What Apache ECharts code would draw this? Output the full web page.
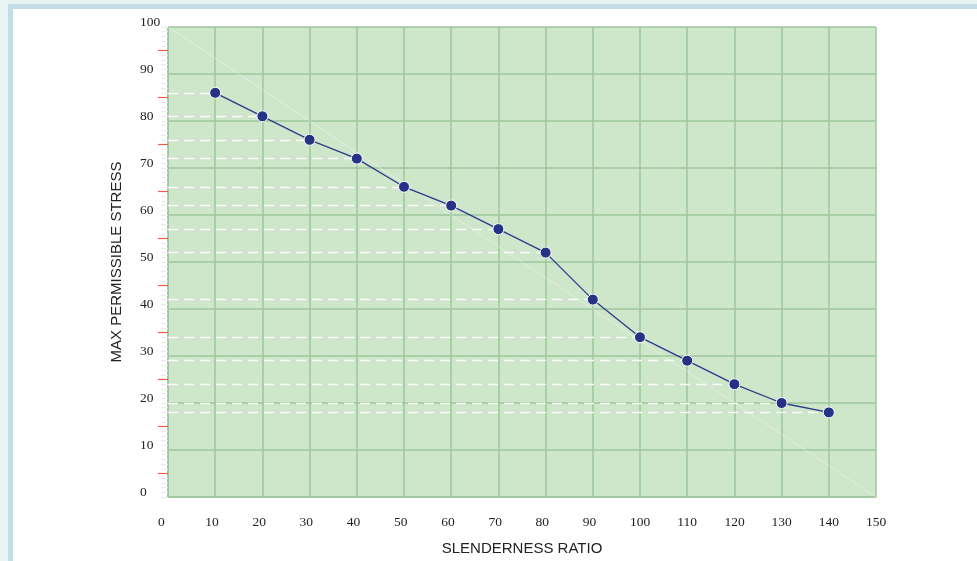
<!DOCTYPE html>
<html><head><meta charset="utf-8">
<script src="https://cdn.jsdelivr.net/npm/echarts@6/dist/echarts.min.js"></script>
<style>html,body{margin:0;padding:0;background:#e8f3f4}#c{width:977px;height:561px}</style>
</head><body><div id="c"></div>
<script>
const slenderness = [10, 20, 30, 40, 50, 60, 70, 80, 90, 100, 110, 120, 130, 140];
const maxStress = [86, 81, 76, 72, 66, 62, 57, 52, 42, 34, 29, 24, 20, 18];
const redTickValues = [5, 15, 25, 35, 45, 55, 65, 75, 85, 95];
const diagonal = [[0, 100], [150, 0]];
const xTitle = 'SLENDERNESS RATIO';
const yTitle = 'MAX PERMISSIBLE STRESS';

const chart = echarts.init(document.getElementById('c'));
const grid = '#9dc69c';
const serif = '"Liberation Serif", "DejaVu Serif", serif';
const sans = '"Liberation Sans", Arial, sans-serif';
const points = slenderness.map((x, i) => [x, maxStress[i]]);
chart.setOption({
  backgroundColor: '#e8f3f4',
  animation: false,
  graphic: [
    { type: 'rect', silent: true, z: -10, shape: { x: 8, y: 4, width: 969, height: 557 }, style: { fill: '#c1dee4' } },
    { type: 'rect', silent: true, z: -9, shape: { x: 13, y: 9, width: 964, height: 552 }, style: { fill: '#ffffff' } }
  ],
  grid: { left: 168, right: 101, top: 27, bottom: 64, show: true, backgroundColor: '#cee6ca', borderWidth: 0 },
  xAxis: {
    type: 'value', min: 0, max: 150, interval: 10,
    name: xTitle, nameLocation: 'middle', nameGap: 44,
    nameTextStyle: { fontFamily: sans, fontSize: 15, color: '#222', verticalAlign: 'top' },
    axisLine: { show: true, lineStyle: { color: grid, width: 1.5 } },
    axisTick: { show: false },
    splitLine: { show: true, lineStyle: { color: grid, width: 1.5 } },
    axisLabel: {
      margin: 18, color: '#222', fontFamily: serif, fontSize: 13.5,
      formatter: v => '{v|' + v + '}',
      rich: { v: { width: 20, align: 'left', fontFamily: serif, fontSize: 13.5, color: '#222' } }
    }
  },
  yAxis: [{
    type: 'value', min: 0, max: 100, interval: 10,
    name: yTitle, nameLocation: 'middle', nameGap: 44, nameRotate: 90,
    nameTextStyle: { fontFamily: sans, fontSize: 15, color: '#222' },
    axisLine: { show: true, lineStyle: { color: grid, width: 1.5 } },
    axisTick: { show: true, length: 7, lineStyle: { color: '#ececec', width: 1 } },
    minorTick: { show: true, splitNumber: 10, length: 7, lineStyle: { color: '#ececec', width: 1 } },
    splitLine: { show: true, lineStyle: { color: grid, width: 1.5 } },
    axisLabel: { margin: 28, align: 'left', verticalAlign: 'bottom', lineHeight: 10, color: '#222', fontFamily: serif, fontSize: 13.5 }
  }, {
    type: 'value', min: 0, max: 100, position: 'left',
    axisLine: { show: false },
    axisLabel: { show: false },
    splitLine: { show: false },
    axisTick: { show: true, length: 10, customValues: redTickValues, lineStyle: { color: '#ec5b4b', width: 1.2 } }
  }],
  series: [{
    type: 'line', data: diagonal, symbol: 'none', silent: true, z: 1,
    lineStyle: { color: 'rgba(255,255,255,0.45)', width: 0.8 }
  }, {
    type: 'line', data: points, z: 5,
    symbol: 'circle', symbolSize: 11,
    lineStyle: { color: '#2d3a8c', width: 1.3 },
    itemStyle: { color: '#263285', borderColor: '#ffffff', borderWidth: 1 },
    markLine: {
      silent: true, symbol: 'none', label: { show: false },
      lineStyle: { color: 'rgba(255,255,255,0.9)', type: [10, 6], width: 1.3 },
      data: points.map(p => [{ coord: [0, p[1]] }, { coord: [p[0], p[1]] }])
    }
  }]
});
</script></body></html>
